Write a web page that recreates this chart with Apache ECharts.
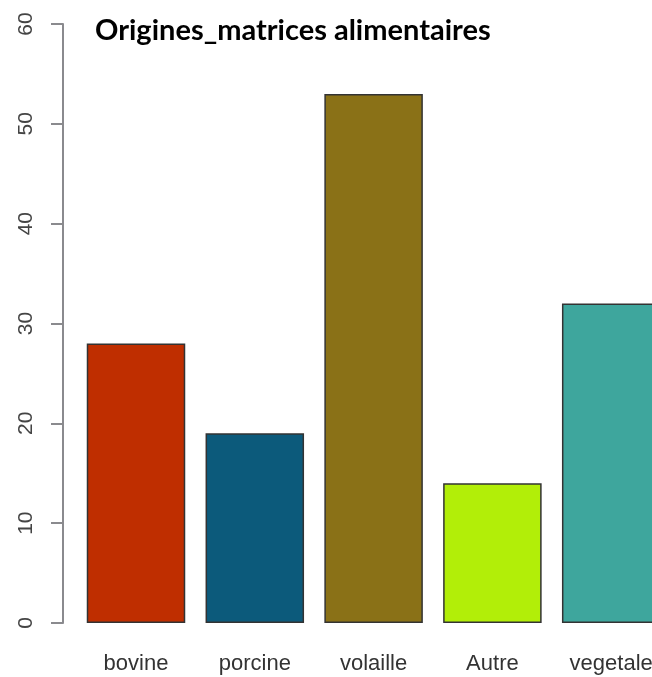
<!DOCTYPE html>
<html>
<head>
<meta charset="utf-8">
<script src="https://cdn.jsdelivr.net/npm/echarts@6/dist/echarts.min.js"></script>
<style>
html,body{margin:0;padding:0;background:#fff;overflow:hidden;}
#chart{width:672px;height:677px;}
</style>
</head>
<body>
<div id="chart"></div>
<script>
const categories = ['bovine', 'porcine', 'volaille', 'Autre', 'vegetale'];
const values = [28, 19, 53, 14, 32];
const barColors = ['#BF2E00', '#0C5A7B', '#8A7117', '#B2EE08', '#3EA69D'];
const yTicks = [0, 10, 20, 30, 40, 50, 60];
const titleText = 'Origines_matrices alimentaires';

const chart = echarts.init(document.getElementById('chart'));
chart.setOption({
  animation: false,
  backgroundColor: '#fff',
  title: {
    text: titleText,
    left: 90,
    top: 11,
    textStyle: { fontFamily: 'Lato', fontWeight: 'bold', fontSize: 29, color: '#000' }
  },
  grid: { left: 76.6, top: 24, right: 1.4, bottom: 54, containLabel: false },
  xAxis: {
    type: 'category',
    data: categories,
    axisLine: { show: false },
    axisTick: { show: false },
    axisLabel: { fontFamily: 'Liberation Sans', fontSize: 22, color: '#333', margin: 30 }
  },
  yAxis: {
    type: 'value',
    min: yTicks[0],
    max: yTicks[yTicks.length - 1],
    interval: 10,
    offset: 13.6,
    axisLine: { show: true, lineStyle: { color: '#8a8a8e', width: 2 } },
    axisTick: { show: true, length: 12, lineStyle: { color: '#8a8a8e', width: 2 } },
    splitLine: { show: false },
    axisLabel: { rotate: 90, fontFamily: 'Liberation Sans', fontSize: 21, color: '#444', margin: 26 }
  },
  series: [{
    type: 'bar',
    data: values.map((v, i) => ({ value: v, itemStyle: { color: barColors[i] } })),
    barWidth: 98.5,
    itemStyle: { borderColor: '#333', borderWidth: 1.5 }
  }]
});
</script>
</body>
</html>
